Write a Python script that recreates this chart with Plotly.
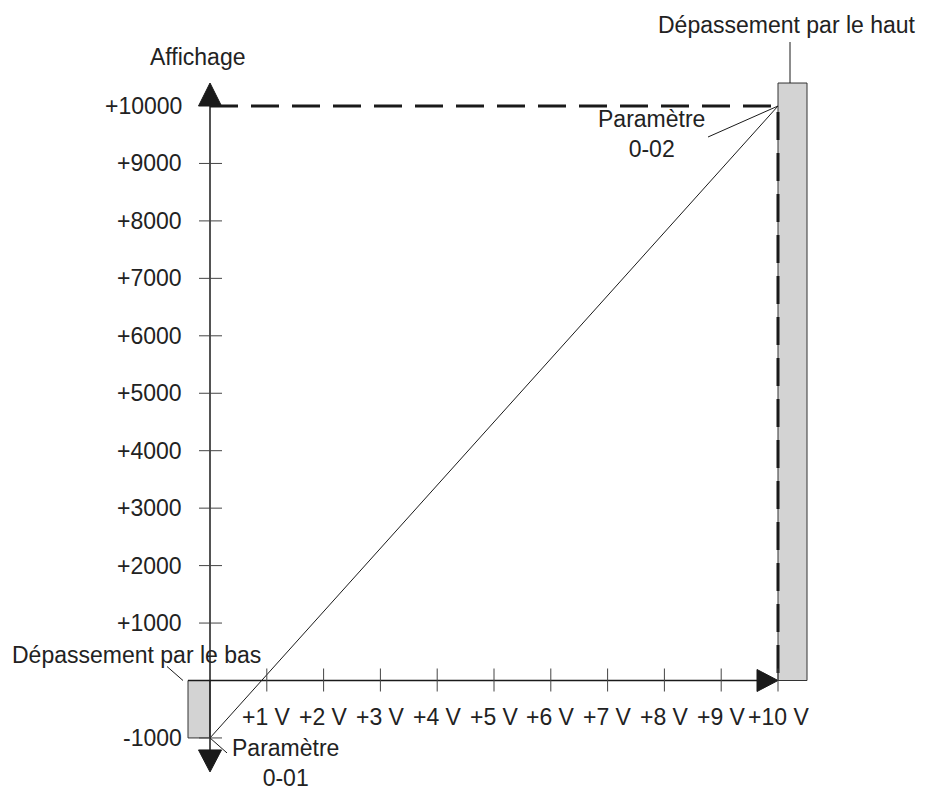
import plotly.graph_objects as go

# ---------------- data ----------------
volt_values = [1, 2, 3, 4, 5, 6, 7, 8, 9, 10]
volt_labels = ["+1 V", "+2 V", "+3 V", "+4 V", "+5 V", "+6 V", "+7 V", "+8 V", "+9 V", "+10 V"]
display_values = [1000, 2000, 3000, 4000, 5000, 6000, 7000, 8000, 9000, 10000, -1000]
display_labels = ["+1000", "+2000", "+3000", "+4000", "+5000", "+6000", "+7000",
                  "+8000", "+9000", "+10000", "-1000"]
param_001 = (0, -1000)     # Paramètre 0-01 (low reference)
param_002 = (10, 10000)    # Paramètre 0-02 (high reference)
overflow_top = 10400       # top of "Dépassement par le haut" bar

# ---------------- scale (pixels per unit) ----------------
W, H = 930, 790
PXX = 56.8        # px per volt
PXY = 0.05745     # px per display unit
X0PX, Y0PX = 210, 680.5


def dx(p):
    return p / PXX


def dy(p):
    return p / PXY


xr = [-X0PX / PXX, (W - X0PX) / PXX]
yr = [-(H - Y0PX) / PXY, Y0PX / PXY]

INK = "#1a1a1a"
GREY = "#d3d3d3"
FONT = dict(family="Liberation Sans, Arial, sans-serif", size=23, color="#222222")

xmin, ymin = param_001
xmax, ymax = param_002

fig = go.Figure()

shapes = []
# overflow bars
shapes.append(dict(type="rect", x0=xmax, x1=xmax + dx(29), y0=0, y1=overflow_top,
                   fillcolor=GREY, line=dict(color="#333333", width=1), layer="below"))
shapes.append(dict(type="rect", x0=-dx(22), x1=0, y0=ymin, y1=0,
                   fillcolor=GREY, line=dict(color="#333333", width=1), layer="below"))
# axes
shapes.append(dict(type="line", x0=0, x1=0, y0=ymin - dy(12), y1=ymax,
                   line=dict(color=INK, width=1.5)))
shapes.append(dict(type="line", x0=-dx(22), x1=xmax - dx(21), y0=0, y1=0,
                   line=dict(color=INK, width=1.5)))
# arrow heads
shapes.append(dict(type="path",
                   path=f"M {-dx(11.5)},{ymax} L {dx(11.5)},{ymax} L 0,{ymax + dy(23)} Z",
                   fillcolor=INK, line=dict(color=INK, width=1)))
yb = ymin - dy(12)
shapes.append(dict(type="path",
                   path=f"M {-dx(11.5)},{yb} L {dx(11.5)},{yb} L 0,{yb - dy(22)} Z",
                   fillcolor=INK, line=dict(color=INK, width=1)))
xb = xmax - dx(21)
shapes.append(dict(type="path",
                   path=f"M {xb},{dy(11)} L {xb},{-dy(11)} L {xmax},0 Z",
                   fillcolor=INK, line=dict(color=INK, width=1)))
# ticks
for v in display_values:
    if v == ymax:
        continue
    shapes.append(dict(type="line", x0=-dx(11), x1=dx(12), y0=v, y1=v,
                       line=dict(color="#444444", width=1)))
for v in volt_values:
    shapes.append(dict(type="line", x0=v, x1=v, y0=-dy(11), y1=dy(12),
                       line=dict(color="#444444", width=1)))
# leader lines
shapes.append(dict(type="line", x0=xmax + dx(12), x1=xmax + dx(12),
                   y0=overflow_top, y1=overflow_top + dy(41),
                   line=dict(color=INK, width=1)))
shapes.append(dict(type="line", x0=xmax - dx(70), x1=xmax, y0=ymax - dy(31), y1=ymax,
                   line=dict(color=INK, width=1)))
shapes.append(dict(type="line", x0=-dx(43), x1=-dx(27), y0=dy(14), y1=0,
                   line=dict(color=INK, width=1)))
shapes.append(dict(type="line", x0=xmin, x1=xmin + dx(17), y0=ymin, y1=ymin - dy(15),
                   line=dict(color=INK, width=1)))

# dashed reference lines
fig.add_trace(go.Scatter(x=[xmin, xmax, xmax], y=[ymax, ymax, 0], mode="lines",
                         line=dict(color=INK, width=3, dash="28px,13px"),
                         hoverinfo="skip", showlegend=False))
# transfer line
fig.add_trace(go.Scatter(x=[param_001[0], param_002[0]], y=[param_001[1], param_002[1]],
                         mode="lines", line=dict(color=INK, width=1),
                         hoverinfo="skip", showlegend=False))

ann = []
for v, t in zip(display_values, display_labels):
    ann.append(dict(x=-dx(26), y=v, text=t, xanchor="right", yanchor="middle",
                    showarrow=False, font=FONT))
for v, t in zip(volt_values, volt_labels):
    ann.append(dict(x=v, y=-dy(36), text=t, xanchor="center", yanchor="middle",
                    showarrow=False, font=FONT))
ann.append(dict(x=-dx(13), y=ymax + dy(49), text="Affichage", xanchor="center",
                yanchor="middle", showarrow=False, font=FONT))
ann.append(dict(x=xmax + dx(8.5), y=overflow_top + dy(58), text="Dépassement par le haut",
                xanchor="center", yanchor="middle", showarrow=False, font=FONT))
ann.append(dict(x=xmax - dx(127), y=ymax - dy(28), text="Paramètre<br>0-02",
                xanchor="center", yanchor="middle", showarrow=False, font=FONT))
ann.append(dict(x=-dx(74), y=dy(26), text="Dépassement par le bas",
                xanchor="center", yanchor="middle", showarrow=False, font=FONT))
ann.append(dict(x=dx(75), y=ymin - dy(25), text="Paramètre<br>0-01",
                xanchor="center", yanchor="middle", showarrow=False, font=FONT))

fig.update_layout(
    width=W, height=H, margin=dict(l=0, r=0, t=0, b=0),
    paper_bgcolor="white", plot_bgcolor="white",
    xaxis=dict(range=xr, visible=False, fixedrange=True),
    yaxis=dict(range=yr, visible=False, fixedrange=True),
    shapes=shapes, annotations=ann, showlegend=False,
)

fig.write_html("out.html", config={"displayModeBar": False},
               post_script="document.body.style.margin='0';")
